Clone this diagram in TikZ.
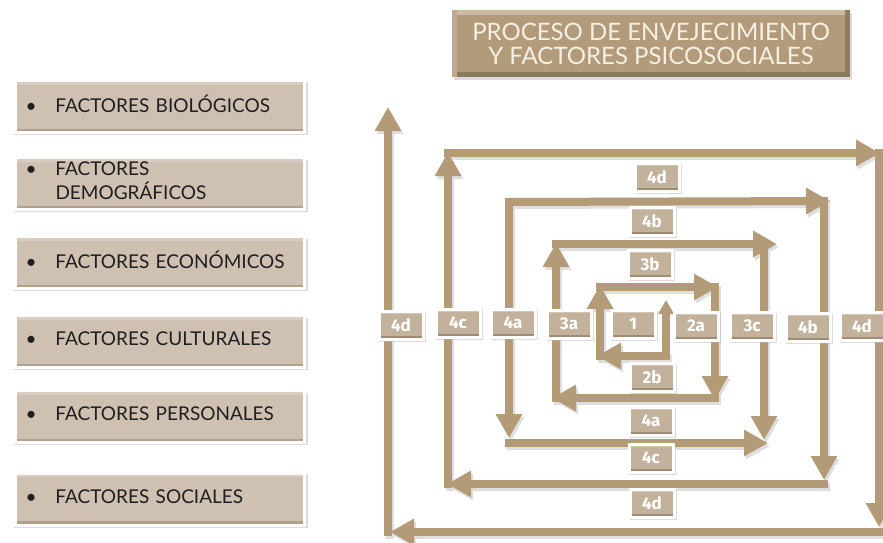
\documentclass[tikz,border=0pt]{standalone}
\usepackage{fontspec}
\setmainfont{Lato}
\newfontfamily\labfont{Fira Sans}
\usetikzlibrary{arrows.meta,shadows}
\definecolor{arrcol}{RGB}{180,155,120}
\definecolor{labfill}{RGB}{194,178,156}
\definecolor{labtop}{RGB}{212,199,182}
\definecolor{labbot}{RGB}{158,140,116}
\definecolor{boxfill}{RGB}{206,193,178}
\definecolor{boxtop}{RGB}{216,205,192}
\definecolor{boxbot}{RGB}{176,160,140}
\definecolor{titfill}{RGB}{178,155,122}
\definecolor{tittop}{RGB}{205,186,158}
\definecolor{titbot}{RGB}{140,120,92}
\definecolor{tittext}{RGB}{246,240,228}
\definecolor{shcol}{RGB}{222,222,222}
\begin{document}
\begin{tikzpicture}[x=1pt,y=-1pt,
  arr/.style={line width=8pt,draw=arrcol,-{Triangle[width=25pt,length=24pt]}},
  arrsmall/.style={line width=8pt,draw=arrcol,-{Triangle[width=15pt,length=14pt]}},
  arrsh/.style={line width=8pt,draw=shcol,-{Triangle[width=25pt,length=24pt]},transform canvas={xshift=2pt,yshift=-3pt}},
  lab/.style={draw=white,line width=3pt,fill=labfill,minimum width=44pt,minimum height=28pt,inner sep=0pt,
    text=white,font=\labfont\bfseries\fontsize{17}{17}\selectfont,
    general shadow={fill=black!30,opacity=0.45,shadow xshift=1.5pt,shadow yshift=-2pt,shadow scale=1.06},
    path picture={
      \fill[labtop] (path picture bounding box.north west) rectangle ([yshift=-3pt]path picture bounding box.north east);
      \fill[labbot] (path picture bounding box.south west) rectangle ([yshift=3pt]path picture bounding box.south east);
    }},
  fbox/.style={draw=white,line width=3pt,fill=boxfill,minimum width=289pt,minimum height=52pt,inner xsep=10pt,
    text width=269pt,align=left,font=\fontsize{19}{20}\selectfont,text=black!88,
    general shadow={fill=black!30,opacity=0.45,shadow xshift=1pt,shadow yshift=-2.5pt,shadow scale=1.015},
    path picture={
      \fill[boxtop] (path picture bounding box.north west) rectangle ([yshift=-4pt]path picture bounding box.north east);
      \fill[boxbot] (path picture bounding box.south west) rectangle ([yshift=4pt]path picture bounding box.south east);
    }},
  tbox/.style={fill=titfill,minimum width=398pt,minimum height=67pt,inner sep=0pt,align=center,
    text=tittext,font=\fontsize{24}{24}\selectfont,
    drop shadow={shadow xshift=1.5pt,shadow yshift=-3pt,fill=black!40,opacity=0.35},
    path picture={
      \fill[tittop] (path picture bounding box.north west) rectangle ([yshift=-5pt]path picture bounding box.north east);
      \fill[titbot] (path picture bounding box.south west) rectangle ([yshift=5pt]path picture bounding box.south east);
      \fill[titfill!85!white] (path picture bounding box.north west) rectangle ([xshift=5pt]path picture bounding box.south west);
      \fill[titfill!80!black] (path picture bounding box.north east) rectangle ([xshift=-5pt]path picture bounding box.south east);
    }}]
\useasboundingbox (0,0) rectangle (883,542);
\fill[white] (0,0) rectangle (883,542);

% title
\node[tbox] (title) at (651,43.5) {PROCESO DE ENVEJECIMIENTO\\Y FACTORES PSICOSOCIALES};

% factor boxes
\newcommand{\fitem}[1]{\begin{tabular}{@{}p{30pt}@{}l@{}}\textbullet & #1\end{tabular}}
\node[fbox] (f1) at (160,106.5) {\fitem{FACTORES BIOLÓGICOS}};
\node[fbox] (f2) at (160,183.5) {\begin{tabular}{@{}p{30pt}@{}l@{}}\textbullet & FACTORES\\ & DEMOGRÁFICOS\end{tabular}};
\node[fbox] (f3) at (160,262.5) {\fitem{FACTORES ECONÓMICOS}};
\node[fbox] (f4) at (160,341.5) {\fitem{FACTORES CULTURALES}};
\node[fbox] (f5) at (160,416.5) {\fitem{FACTORES PERSONALES}};
\node[fbox] (f6) at (160,499) {\fitem{FACTORES SOCIALES}};

% spiral coordinates
\coordinate (s1) at (666,358); \coordinate (e1) at (666,300);
\coordinate (s2) at (670,356); \coordinate (e2) at (597,356);
\coordinate (s3) at (600,360); \coordinate (e3) at (600,285);
\coordinate (s4) at (596,287); \coordinate (e4) at (718,287);
\coordinate (s5) at (715,283); \coordinate (e5) at (715,400);
\coordinate (s6) at (719,398); \coordinate (e6) at (552,398);
\coordinate (s7) at (556,402); \coordinate (e7) at (556,243);
\coordinate (s8) at (552,244); \coordinate (e8) at (777,244);
\coordinate (s9) at (764,240); \coordinate (e9) at (764,440);
\coordinate (s10) at (505,443); \coordinate (e10) at (768,443);
\coordinate (s11) at (509,198); \coordinate (e11) at (509,438);
\coordinate (s12) at (505,202); \coordinate (e12) at (830,201);
\coordinate (s13) at (824,197); \coordinate (e13) at (824,480);
\coordinate (s14) at (828,484); \coordinate (e14) at (447,484);
\coordinate (s15) at (448,488); \coordinate (e15) at (448,152);
\coordinate (s16) at (444,153); \coordinate (e16) at (880,153);
\coordinate (s17) at (879,149); \coordinate (e17) at (879,527);
\coordinate (s18) at (883,532); \coordinate (e18) at (390,532);
\coordinate (s19) at (388,536); \coordinate (e19) at (388,107);

% shadows
\foreach \i in {2,...,19} \draw[arrsh] (s\i) -- (e\i);
% arrows
\draw[arrsmall] (s1) -- (e1);
\foreach \i in {2,...,19} \draw[arr] (s\i) -- (e\i);

% row labels
\node[lab] (r1) at (401,325) {4d};
\node[lab] (r2) at (458,323) {4c};
\node[lab] (r3) at (513,323) {4a};
\node[lab] (r4) at (569,324) {3a};
\node[lab] (r5) at (633,324) {1};
\node[lab] (r6) at (696,326) {2a};
\node[lab] (r7) at (752,326) {3c};
\node[lab] (r8) at (808,327) {4b};
\node[lab] (r9) at (862,326) {4d};
% column labels
\node[lab] (c1) at (657,177) {4d};
\node[lab] (c2) at (652,221) {4b};
\node[lab] (c3) at (650,264) {3b};
\node[lab] (c4) at (652,377) {2b};
\node[lab] (c5) at (651,421) {4a};
\node[lab] (c6) at (651,458) {4c};
\node[lab] (c7) at (652,503) {4d};
\end{tikzpicture}
\end{document}
